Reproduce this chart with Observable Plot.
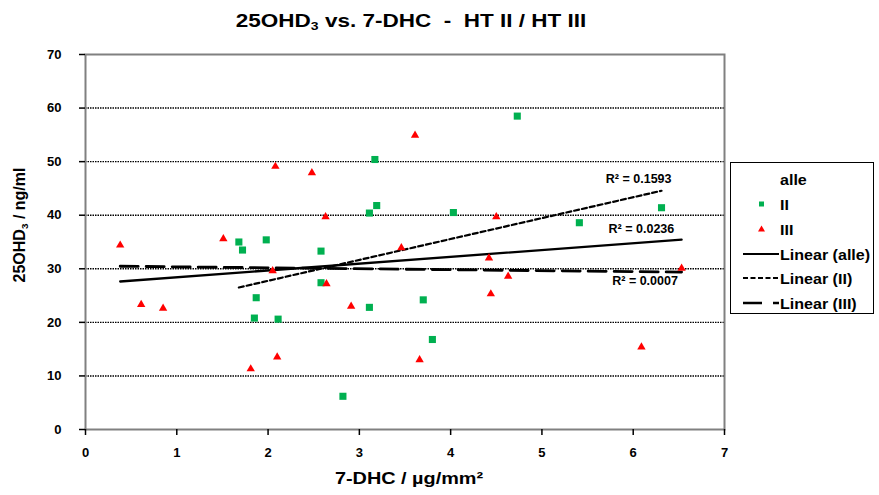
<!DOCTYPE html>
<html><head><meta charset="utf-8">
<script src="https://cdn.jsdelivr.net/npm/d3@7"></script>
<script src="https://cdn.jsdelivr.net/npm/@observablehq/plot@0.6"></script>
<style>
body{margin:0;background:#fff;}
#wrap{position:relative;width:879px;height:495px;font-family:"Liberation Sans",Arial,sans-serif;font-weight:bold;color:#000;overflow:hidden;}
.lbl{position:absolute;white-space:pre;line-height:1;}
sub{font-size:62%;vertical-align:-0.3em;line-height:0;}
#legend{position:absolute;left:730px;top:162px;width:144px;height:152px;border:1px solid #000;box-sizing:border-box;background:#fff;}
#legend .t{position:absolute;left:49px;font-size:15px;white-space:pre;line-height:1;transform-origin:left center;transform:translateY(-50%) scaleX(1.07);}
#wrap svg text{font-family:"Liberation Sans",Arial,sans-serif !important;font-weight:bold !important;fill:#000 !important;}
#wrap svg g[aria-label$="tick label"] text{font-size:13px !important;}
#wrap svg g[aria-label="text"] text{font-size:12.5px !important;}
</style></head><body><div id="wrap"></div>
<script>
// ---- data ----
const xTicks = [0, 1, 2, 3, 4, 5, 6, 7];
const yTicks = [0, 10, 20, 30, 40, 50, 60, 70];
const gridTicks = [10, 20, 30, 40, 50, 60];

// series II (green squares)
const xII = [1.68, 1.72, 1.98, 1.87, 1.85, 2.11, 2.58, 2.58, 2.82, 3.11, 3.17, 3.19, 3.11, 3.70, 3.80, 4.03, 4.73, 5.41, 6.31];
const yII = [35.0, 33.5, 35.4, 24.6, 20.8, 20.6, 33.3, 27.4, 6.2, 40.4, 50.4, 41.8, 22.8, 24.2, 16.8, 40.5, 58.5, 38.6, 41.4];

// series III (red triangles)
const xIII = [0.38, 0.61, 0.85, 1.51, 1.81, 2.05, 2.08, 2.10, 2.48, 2.63, 2.64, 2.91, 3.46, 3.61, 3.66, 4.42, 4.44, 4.50, 4.63, 6.09, 6.53];
const yIII = [34.4, 23.3, 22.6, 35.6, 11.3, 29.6, 49.1, 13.5, 47.9, 39.7, 27.2, 23.0, 33.9, 54.9, 13.0, 32.0, 25.3, 39.7, 28.6, 15.4, 30.1];

// R² annotations
const r2Text = ["R² = 0.1593", "R² = 0.0236", "R² = 0.0007"];
const r2X = [5.70, 5.73, 5.77];
const r2Y = [46.8, 37.4, 27.8];

const titleHTML = "25OHD<sub>3</sub> vs. 7-DHC  -  HT II / HT III";
const yLabelHTML = "25OHD<sub>3</sub> / ng/ml";
const xLabelText = "7-DHC / µg/mm²";
const legendLabels = ["alle", "II", "III", "Linear (alle)", "Linear (II)", "Linear (III)"];

// ---- build ----
const ii = xII.map((x, i) => ({x, y: yII[i]}));
const iii = xIII.map((x, i) => ({x, y: yIII[i]}));
const all = ii.concat(iii);
const r2 = r2Text.map((t, i) => ({t, x: r2X[i], y: r2Y[i]}));

const chart = Plot.plot({
  width: 879,
  height: 495,
  marginLeft: 85,
  marginRight: 155,
  marginTop: 54,
  marginBottom: 66,
  style: {fontFamily: '"Liberation Sans", Arial, sans-serif', fontWeight: "bold", fontSize: "13px", background: "#fff", color: "#000"},
  x: {domain: [0, 7]},
  y: {domain: [0, 70]},
  marks: [
    Plot.gridY(gridTicks, {stroke: "#000", strokeOpacity: 1, strokeWidth: 1.4, strokeDasharray: "1.5,1"}),
    Plot.frame({stroke: "#808080", strokeWidth: 2}),
    Plot.linearRegressionY(all, {x: "x", y: "y", stroke: "#000", strokeWidth: 2.3, ci: 0}),
    Plot.linearRegressionY(ii, {x: "x", y: "y", stroke: "#000", strokeWidth: 2.2, strokeDasharray: "5,3", ci: 0}),
    Plot.linearRegressionY(iii, {x: "x", y: "y", stroke: "#000", strokeWidth: 2.8, strokeDasharray: "18,8", ci: 0}),
    Plot.dot(ii, {x: "x", y: "y", symbol: "square", r: 4, fill: "#00B050"}),
    Plot.dot(iii, {x: "x", y: "y", symbol: "triangle", r: 3.1, fill: "#FF0000"}),
    Plot.text(r2, {x: "x", y: "y", text: "t", textAnchor: "start", fontSize: 12.5, fontWeight: "bold"}),
    Plot.axisX(xTicks, {tickSize: 6, tickPadding: 12, strokeWidth: 1.5, label: null}),
    Plot.axisY(yTicks, {tickSize: 6, tickPadding: 18, strokeWidth: 1.5, label: null})
  ]
});

const wrap = document.getElementById("wrap");
wrap.appendChild(chart);

function addLabel(html, left, top, transform, size) {
  const d = document.createElement("div");
  d.className = "lbl";
  d.innerHTML = html;
  d.style.left = left + "px";
  d.style.top = top + "px";
  d.style.fontSize = size + "px";
  d.style.transform = transform;
  wrap.appendChild(d);
}
addLabel(titleHTML, 411, 21, "translate(-50%,-50%) scaleX(1.25)", 18);
addLabel(xLabelText, 409, 479, "translate(-50%,-50%) scaleX(1.24)", 16);
addLabel(yLabelHTML, 20, 225, "translate(-50%,-50%) rotate(-90deg)", 16);

// legend
const lg = document.createElement("div");
lg.id = "legend";
wrap.appendChild(lg);
const rowY = [16, 41, 66, 91, 115, 140];
const ns = "http://www.w3.org/2000/svg";
const sv = document.createElementNS(ns, "svg");
sv.setAttribute("width", 142); sv.setAttribute("height", 150);
sv.style.position = "absolute"; sv.style.left = "0"; sv.style.top = "0";
lg.appendChild(sv);
function el(name, attrs) { const e = document.createElementNS(ns, name); for (const k in attrs) e.setAttribute(k, attrs[k]); sv.appendChild(e); }
el("rect", {x: 28, y: rowY[1] - 2.5, width: 5, height: 5, fill: "#00B050"});
el("path", {d: `M30.5,${rowY[2] - 3.5} L34,${rowY[2] + 2.5} L27,${rowY[2] + 2.5} Z`, fill: "#FF0000"});
el("line", {x1: 12, x2: 48, y1: rowY[3], y2: rowY[3], stroke: "#000", "stroke-width": 2});
el("line", {x1: 12, x2: 48, y1: rowY[4], y2: rowY[4], stroke: "#000", "stroke-width": 2, "stroke-dasharray": "5,2.5"});
el("line", {x1: 12, x2: 48, y1: rowY[5], y2: rowY[5], stroke: "#000", "stroke-width": 2.5, "stroke-dasharray": "19,11"});
legendLabels.forEach((t, i) => {
  const d = document.createElement("div");
  d.className = "t";
  d.textContent = t;
  d.style.top = rowY[i] + "px";
  lg.appendChild(d);
});
</script></body></html>
